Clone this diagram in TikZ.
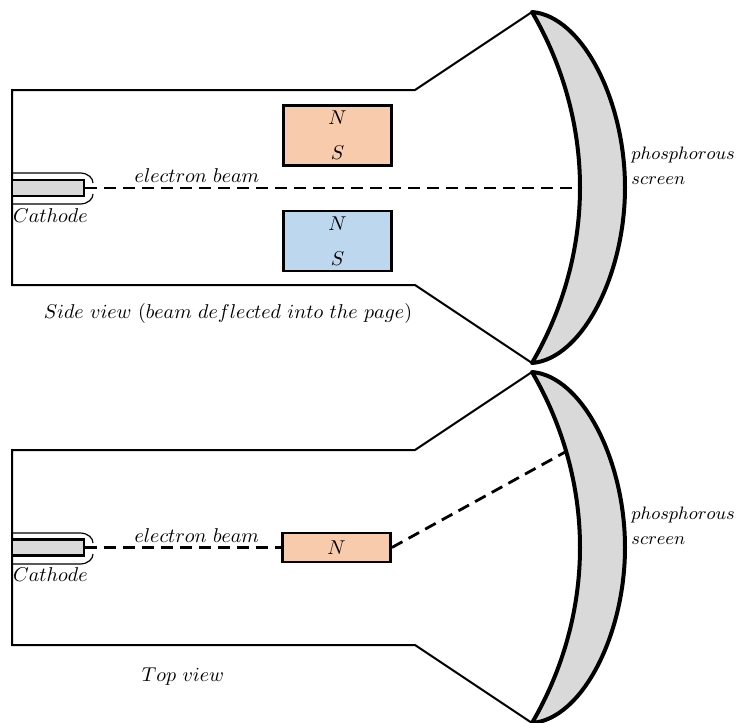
\documentclass[tikz,border=0pt]{standalone}
\usetikzlibrary{positioning,calc}
\definecolor{northcol}{HTML}{F8CBAD}
\definecolor{southcol}{HTML}{BDD7EE}
\definecolor{screencol}{HTML}{D9D9D9}
\tikzset{
    tube/.style={line width=1pt, line join=miter},
    screen/.style={draw, fill=screencol, line width=2pt, line join=round},
    magnet/.style={draw, line width=1.4pt, minimum width=54pt, inner sep=0pt, align=center,
        font=\fontsize{9.6}{17.5}\selectfont},
    cathode/.style={draw, fill=screencol, line width=1.2pt, minimum width=36pt, minimum height=8pt, inner sep=0pt},
    shield/.style={line width=0.6pt},
    beam/.style={line width=1.4pt, dash pattern=on 6pt off 3.5pt},
    lbl/.style={inner sep=1pt, font=\fontsize{9.6}{12.5}\selectfont, align=left},
    screenlbl/.style={lbl, inner sep=0pt, anchor=west, font=\fontsize{9.4}{12.5}\selectfont},
}
\begin{document}
\begin{tikzpicture}[x=0.5pt, y=-0.5pt]
    \useasboundingbox (0,0) rectangle (740,723);
    % tube outline and screen, same for both views
    \foreach \dy in {0,360}{
    \begin{scope}[shift={(0,\dy)}]
    \draw[tube] (532,12) -- (415,90) -- (12,90) -- (12,285) -- (415,285) -- (532,363);
    \filldraw[screen] (532,12) .. controls (582,16) and (625,100) .. (625,187.5)
        .. controls (625,275) and (582,359) .. (532,363)
        .. controls (563,310) and (580,249) .. (580,187.5)
        .. controls (580,126) and (563,65) .. (532,12) -- cycle;
    \draw[shield] (12,173) -- (80,173) .. controls (88,173) and (93,178) .. (93,183);
    \draw[shield] (12,204) -- (80,204) .. controls (88,204) and (93,199) .. (93,194);
    \end{scope}}
    % side view
    \node[cathode] (cathA) at (48,188) {};
    \node[lbl, below=4.5pt of cathA.south west, anchor=north west] (cathlblA) {$Cathode$};
    \node[magnet, fill=northcol, minimum height=30pt] (magNA) at (337.5,135.5) {$N$\\$S$};
    \node[magnet, fill=southcol, minimum height=30pt] (magSA) at (337.5,241) {$N$\\$S$};
    \coordinate (hitA) at (580,188);
    \draw[beam] (cathA.east) -- (hitA) node[lbl, pos=0.226, above=1pt] {$electron\ beam$};
    \node[screenlbl] (scrA) at (631,166) {$phosphorous$\\$screen$};
    \node[lbl] (viewA) at (228,313) {$Side\ view\ (beam\ deflected\ into\ the\ page)$};
    % top view
    \node[cathode] (cathB) at (48,547.5) {};
    \node[lbl, below=4.5pt of cathB.south west, anchor=north west] (cathlblB) {$Cathode$};
    \node[magnet, fill=northcol, minimum height=14.5pt] (magNB) at (336.5,547.5) {$N$};
    \coordinate (hitB) at (567,451);
    \draw[beam] (cathB.east) -- (magNB.west) node[lbl, pos=0.57, above=1pt] {$electron\ beam$};
    \draw[beam] (magNB.east) -- (hitB);
    \node[screenlbl] (scrB) at (631,526) {$phosphorous$\\$screen$};
    \node[lbl] (viewB) at (183,677) {$Top\ view$};
\end{tikzpicture}
\end{document}
